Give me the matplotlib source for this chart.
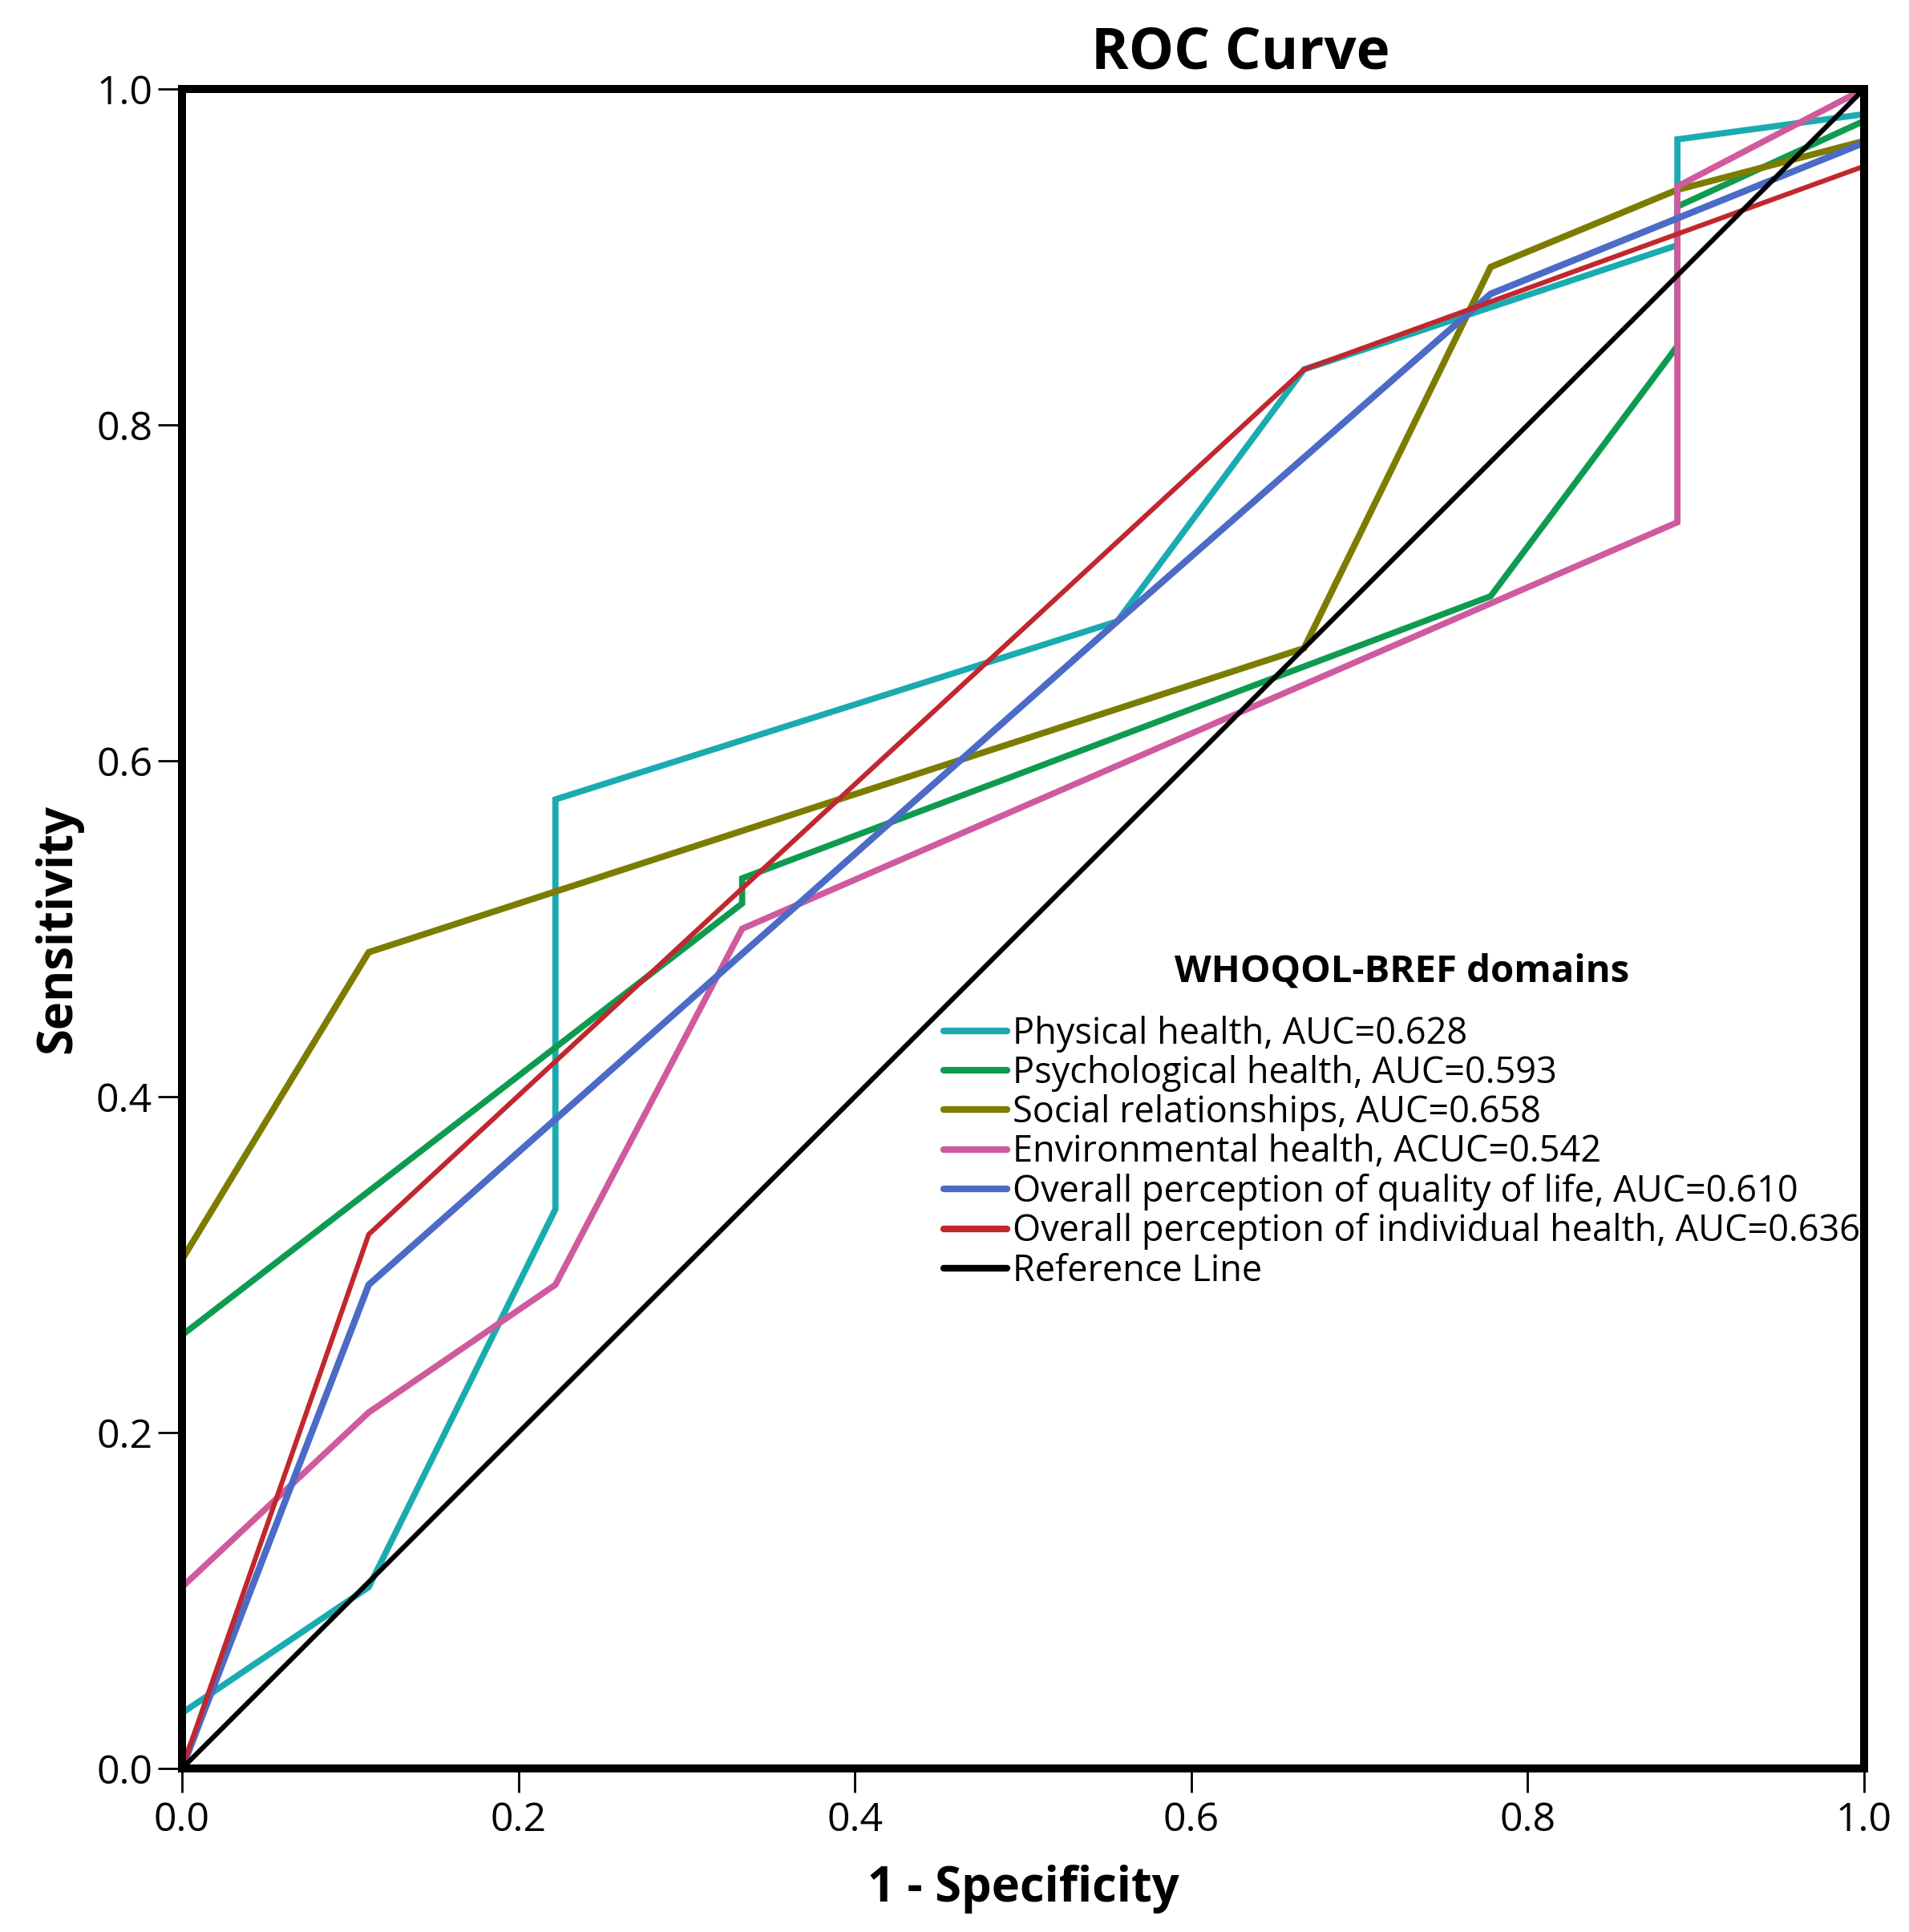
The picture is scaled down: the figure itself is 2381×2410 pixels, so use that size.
import matplotlib
matplotlib.use("Agg")
import matplotlib.pyplot as plt

plt.rcParams['font.family'] = ['Open Sans', 'DejaVu Sans']

# ---- data ----
labels = [
    "Physical health, AUC=0.628",
    "Psychological health, AUC=0.593",
    "Social relationships, AUC=0.658",
    "Environmental health, ACUC=0.542",
    "Overall perception of quality of life, AUC=0.610",
    "Overall perception of individual health, AUC=0.636",
    "Reference Line",
]

physical_fpr = [0, 0, 0.111, 0.222, 0.222, 0.556, 0.667, 0.889, 0.889, 1, 1]
physical_tpr = [0, 0.033, 0.108, 0.333, 0.577, 0.683, 0.833, 0.907, 0.970, 0.985, 1]

psych_fpr = [0, 0, 0.333, 0.333, 0.778, 0.889, 0.889, 1, 1]
psych_tpr = [0, 0.258, 0.515, 0.530, 0.698, 0.847, 0.930, 0.981, 1]

social_fpr = [0, 0, 0.111, 0.667, 0.778, 0.889, 1, 1]
social_tpr = [0, 0.303, 0.486, 0.667, 0.894, 0.940, 0.969, 1]

env_fpr = [0, 0, 0.111, 0.222, 0.333, 0.889, 0.889, 1]
env_tpr = [0, 0.108, 0.212, 0.288, 0.500, 0.742, 0.942, 1]

qol_fpr = [0, 0.111, 0.556, 0.778, 1, 1]
qol_tpr = [0, 0.288, 0.683, 0.878, 0.968, 1]

indiv_fpr = [0, 0.111, 0.333, 0.667, 1, 1]
indiv_tpr = [0, 0.318, 0.524, 0.833, 0.954, 1]

ref_fpr = [0, 1]
ref_tpr = [0, 1]

tick_values = [0.0, 0.2, 0.4, 0.6, 0.8, 1.0]
tick_labels = ["0.0", "0.2", "0.4", "0.6", "0.8", "1.0"]

colors = ["#1aabb0", "#0e9b50", "#7c7c00", "#cf5a9e", "#4b6bc6", "#c1272d", "#000000"]
widths = [5.6, 5.6, 5.8, 5.6, 6.0, 4.4, 4.4]

series = [
    (physical_fpr, physical_tpr),
    (psych_fpr, psych_tpr),
    (social_fpr, social_tpr),
    (env_fpr, env_tpr),
    (qol_fpr, qol_tpr),
    (indiv_fpr, indiv_tpr),
    (ref_fpr, ref_tpr),
]

fig = plt.figure(figsize=(23.81, 24.10), dpi=100)
ax = fig.add_axes([227 / 2381, 1 - 2206 / 2410, 2098 / 2381, 2095 / 2410])

for (fx, ty), c, w, lab in zip(series, colors, widths, labels):
    ax.plot(fx, ty, color=c, lw=w, label=lab, solid_joinstyle='miter')

ax.set_xlim(0, 1)
ax.set_ylim(0, 1)
ax.set_xticks(tick_values)
ax.set_xticklabels(tick_labels)
ax.set_yticks(tick_values)
ax.set_yticklabels(tick_labels)

for s in ax.spines.values():
    s.set_linewidth(7.2)
    s.set_color("black")

ax.tick_params(axis='both', direction='out', length=21.5, width=2, color='black',
               labelsize=36, labelcolor='black')
ax.tick_params(axis='x', pad=8)
ax.tick_params(axis='y', pad=5)

ax.set_xlabel("1 - Specificity", fontsize=43, fontweight='bold')
ax.xaxis.set_label_coords(0.5, (2206 - 2372) / 2095)
ax.xaxis.label.set_va('baseline')

ax.set_ylabel("Sensitivity", fontsize=43, fontweight='bold')
ax.yaxis.label.set_rotation_mode('anchor')
ax.yaxis.set_label_coords((88 - 227) / 2098, 0.5)
ax.yaxis.label.set_va('baseline')

ax.text((1547 - 227) / 2098, (2206 - 85) / 2095, "ROC Curve", transform=ax.transAxes,
        ha='center', va='baseline', fontsize=51, fontweight='bold')

leg = ax.legend(loc='upper left', bbox_to_anchor=((1177 - 227) / 2098, (2206 - 1188) / 2095),
                frameon=False, fontsize=32.5, title="WHOQOL-BREF domains",
                title_fontproperties={'size': 34, 'weight': 'bold'},
                borderpad=0, borderaxespad=0, handlelength=1.75, handletextpad=0.155,
                labelspacing=0.07)
# extra gap between the legend title and its entries
leg._legend_box.sep = 23
for h in leg.get_lines():
    h.set_linewidth(6)
    h.set_solid_capstyle('round')

fig.savefig("out.png", dpi=100, facecolor='white')
